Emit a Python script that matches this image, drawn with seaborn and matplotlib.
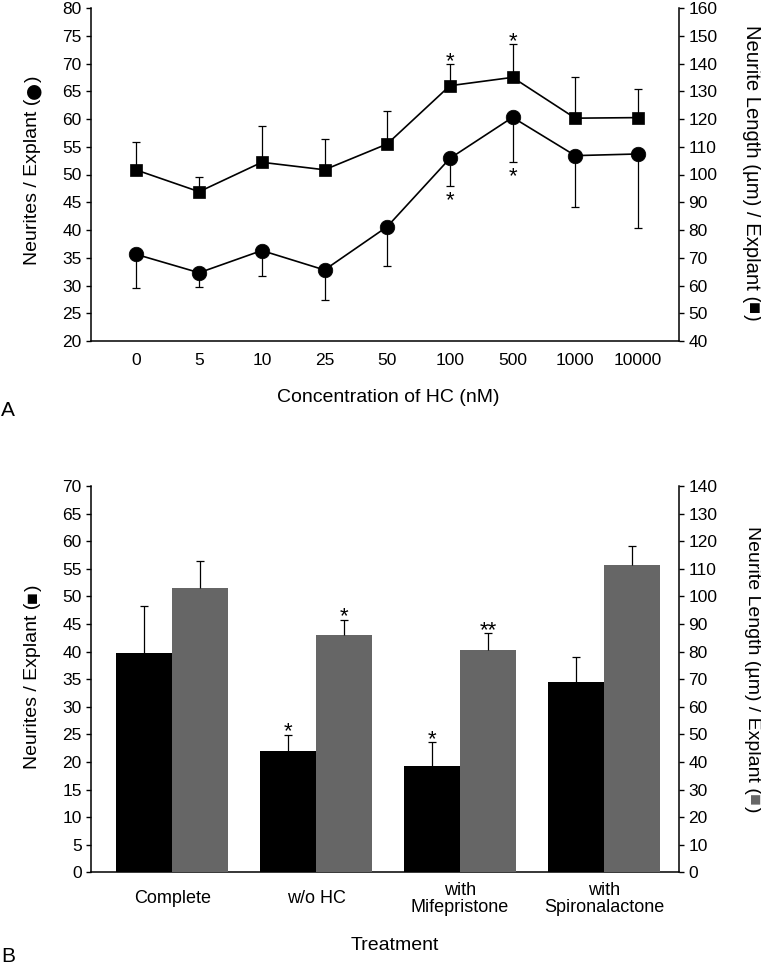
import numpy as np
import pandas as pd
import matplotlib
matplotlib.use("Agg")
import matplotlib.pyplot as plt
import seaborn as sns

# ---------------- data ----------------
conc_labels = ['0', '5', '10', '25', '50', '100', '500', '1000', '10000']
neurites_a = [35.6, 32.3, 36.3, 32.8, 40.6, 52.9, 60.3, 53.4, 53.7]
neurites_a_err = [6.0, 2.5, 4.5, 5.5, 7.1, 4.9, 8.0, 9.2, 13.4]
length_a = [101.6, 93.8, 104.4, 101.7, 111.0, 132.0, 135.0, 120.3, 120.5]
length_a_err = [10.2, 5.4, 13.2, 11.1, 11.9, 7.7, 11.9, 14.7, 10.2]
sig_neurites_a = ['', '', '', '', '', '*', '*', '', '']
sig_length_a = ['', '', '', '', '', '*', '*', '', '']

treatments = ['Complete', 'w/o HC', 'with\nMifepristone', 'with\nSpironalactone']
neurites_b = [39.7, 21.9, 19.3, 34.4]
neurites_b_err = [8.5, 3.0, 4.3, 4.7]
length_b = [102.9, 85.9, 80.5, 111.5]
length_b_err = [10.1, 5.6, 6.2, 6.9]
sig_neurites_b = ['', '*', '*', '']
sig_length_b = ['', '*', '**', '']

# ---------------- style ----------------
sns.set_theme(style="white")
plt.rcParams['font.family'] = ['Liberation Sans', 'DejaVu Sans']
plt.rcParams.update({
    'text.color': 'black', 'axes.labelcolor': 'black',
    'xtick.color': 'black', 'ytick.color': 'black',
    'axes.edgecolor': 'black', 'axes.linewidth': 1.1,
})
TICK_FS = 12.5
CAT_FS = 13
LABEL_FS = 14
STAR_FS = 16
GRAY = '#666666'
CLEAR = (0, 0, 0, 0)

W, H = 761, 966
fig = plt.figure(figsize=(W / 100, H / 100), dpi=100)


def fx(px):
    return px / W


def fy(py):
    return 1 - py / H


def one_sided_errorbar(ax, x, y, err, direction, cap=2.6, lw=0.9):
    err = np.asarray(err, float)
    zeros = np.zeros_like(err)
    yerr = [zeros, err] if direction == 'up' else [err, zeros]
    _, caps, _ = ax.errorbar(x, y, yerr=yerr, fmt='none', ecolor='black',
                             elinewidth=lw, capsize=cap, capthick=lw, zorder=2)
    for c in caps:
        if np.allclose(np.asarray(c.get_ydata(), float), np.asarray(y, float)):
            c.set_visible(False)


def stars(ax, x, y, err, labels, direction):
    for xi, yi, ei, s in zip(x, y, err, labels):
        if not s:
            continue
        if direction == 'up':
            ax.annotate(s, xy=(xi, yi + ei), xytext=(0, -2.0), textcoords='offset points',
                        ha='center', va='baseline', fontsize=STAR_FS, zorder=5)
        else:
            ax.annotate(s, xy=(xi, yi - ei), xytext=(0, -14.5), textcoords='offset points',
                        ha='center', va='baseline', fontsize=STAR_FS, zorder=5)


def style_axes(ax, ax2):
    ax.spines['top'].set_visible(False)
    ax.spines['right'].set_visible(False)
    ax2.spines['top'].set_visible(False)
    ax2.spines['left'].set_visible(False)
    ax2.spines['bottom'].set_visible(False)
    for a in (ax, ax2):
        a.tick_params(axis='y', direction='out', length=3.5, width=1.0,
                      labelsize=TICK_FS, pad=3)
    ax.set_xlabel('')
    ax.set_ylabel('')
    ax2.set_ylabel('')


renderer = fig.canvas.get_renderer()


def rotated_label(xpx, ypx, pieces, rotation, fs=LABEL_FS):
    """pieces: list of (text, color, family). Centered at (xpx, ypx)."""
    widths = []
    for s, c, fam in pieces:
        t = fig.text(0, 0, s, rotation=rotation, fontsize=fs, family=fam)
        widths.append(t.get_window_extent(renderer).height)
        t.remove()
    total = sum(widths)
    yc = fig.bbox.height * fy(ypx)
    if rotation == 90:
        cur = yc - total / 2
        for (s, c, fam), w in zip(pieces, widths):
            fig.text(fx(xpx), cur / fig.bbox.height, s, rotation=90, ha='center', va='bottom',
                     fontsize=fs, color=c, family=fam)
            cur += w
    else:
        cur = yc + total / 2
        for (s, c, fam), w in zip(pieces, widths):
            fig.text(fx(xpx), cur / fig.bbox.height, s, rotation=-90, ha='center', va='top',
                     fontsize=fs, color=c, family=fam)
            cur -= w


# ---------------- Panel A ----------------
axA = fig.add_axes([fx(90.7), fy(341), fx(679.3) - fx(90.7), fy(8) - fy(341)])
axA2 = axA.twinx()
xa = np.arange(len(conc_labels))
dfA = pd.DataFrame({'x': xa, 'neurites': neurites_a, 'length': length_a})

one_sided_errorbar(axA, xa, neurites_a, neurites_a_err, 'down')
sns.lineplot(data=dfA, x='x', y='neurites', ax=axA, color='black', linewidth=1.2,
             marker='o', markersize=10.5, markeredgecolor='black', markeredgewidth=0.5,
             zorder=3)
one_sided_errorbar(axA2, xa, length_a, length_a_err, 'up')
sns.lineplot(data=dfA, x='x', y='length', ax=axA2, color='black', linewidth=1.2,
             marker='s', markersize=9.2, markeredgecolor='black', markeredgewidth=0.5,
             zorder=3)
stars(axA, xa, neurites_a, neurites_a_err, sig_neurites_a, 'down')
stars(axA2, xa, length_a, length_a_err, sig_length_a, 'up')

axA.set_ylim(20, 80)
axA.set_yticks(np.arange(20, 81, 5))
axA2.set_ylim(40, 160)
axA2.set_yticks(np.arange(40, 161, 10))
xlimA = (-0.73, 8.66)
axA.set_xlim(*xlimA)
axA2.set_xlim(*xlimA)
axA.set_xticks(xa, conc_labels)
axA.set_xticks(list(xlimA), minor=True)
axA.tick_params(axis='x', which='both', direction='out', length=3.5, width=1.0)
axA.tick_params(axis='x', which='major', labelsize=TICK_FS, pad=5)
style_axes(axA, axA2)

# ---------------- Panel B ----------------
axB = fig.add_axes([fx(90.7), fy(872.3), fx(679.3) - fx(90.7), fy(486) - fy(872.3)])
axB2 = axB.twinx()
dfB = pd.DataFrame({
    'treatment': treatments * 2,
    'series': ['neurites'] * len(treatments) + ['length'] * len(treatments),
    'value': neurites_b + length_b,
})
hue_order = ['neurites', 'length']
sns.barplot(data=dfB, x='treatment', y='value', hue='series',
            hue_order=hue_order, order=treatments,
            palette={'neurites': 'black', 'length': CLEAR}, width=0.78, gap=0,
            errorbar=None, saturation=1, legend=False, linewidth=0, ax=axB)
sns.barplot(data=dfB, x='treatment', y='value', hue='series',
            hue_order=hue_order, order=treatments,
            palette={'neurites': CLEAR, 'length': GRAY}, width=0.78, gap=0,
            errorbar=None, saturation=1, legend=False, linewidth=0, ax=axB2)


def visible_bar_centers(ax):
    out = []
    for p in ax.patches:
        if p.get_facecolor()[3] > 0:
            out.append(p.get_x() + p.get_width() / 2)
    return sorted(out)


xb_black = visible_bar_centers(axB)
xb_gray = visible_bar_centers(axB2)
one_sided_errorbar(axB, xb_black, neurites_b, neurites_b_err, 'up')
one_sided_errorbar(axB2, xb_gray, length_b, length_b_err, 'up')
stars(axB, xb_black, neurites_b, neurites_b_err, sig_neurites_b, 'up')
stars(axB2, xb_gray, length_b, length_b_err, sig_length_b, 'up')

axB.set_ylim(0, 70)
axB.set_yticks(np.arange(0, 71, 5))
axB2.set_ylim(0, 140)
axB2.set_yticks(np.arange(0, 141, 10))
xlimB = (-0.567, 3.523)
axB.set_xlim(*xlimB)
axB2.set_xlim(*xlimB)
style_axes(axB, axB2)
axB.set_xticks(range(len(treatments)), treatments)
axB.set_xticks([0.5, 1.5, 2.5], minor=True)
axB.tick_params(axis='x', which='major', length=0, labelsize=CAT_FS, pad=19)
axB.tick_params(axis='x', which='minor', direction='out', length=3.5, width=1.0)
for t in axB.get_xticklabels():
    t.set_va('center')
    t.set_linespacing(1.0)

# ---------------- labels ----------------
SANS = ['Liberation Sans', 'DejaVu Sans']
SYM = ['DejaVu Sans']
rotated_label(33, 170, [('Neurites / Explant (', 'black', SANS), ('●', 'black', SYM),
                        (')', 'black', SANS)], 90)
rotated_label(752, 173, [('Neurite Length (µm) / Explant (', 'black', SANS),
                         ('■', 'black', SANS), (')', 'black', SANS)], -90, fs=14.6)
fig.text(fx(388), fy(398), 'Concentration of HC (nM)', ha='center', va='center', fontsize=LABEL_FS)
fig.text(fx(8), fy(410), 'A', ha='center', va='center', fontsize=LABEL_FS + 1)

rotated_label(33, 677, [('Neurites / Explant (', 'black', SANS), ('■', 'black', SANS),
                        (')', 'black', SANS)], 90)
rotated_label(752, 669, [('Neurite Length (µm) / Explant (', 'black', SANS),
                         ('■', GRAY, SANS), (')', 'black', SANS)], -90)
fig.text(fx(395), fy(946), 'Treatment', ha='center', va='center', fontsize=LABEL_FS)
fig.text(fx(8), fy(956), 'B', ha='center', va='center', fontsize=LABEL_FS + 1)

fig.savefig('out.png', dpi=100)
